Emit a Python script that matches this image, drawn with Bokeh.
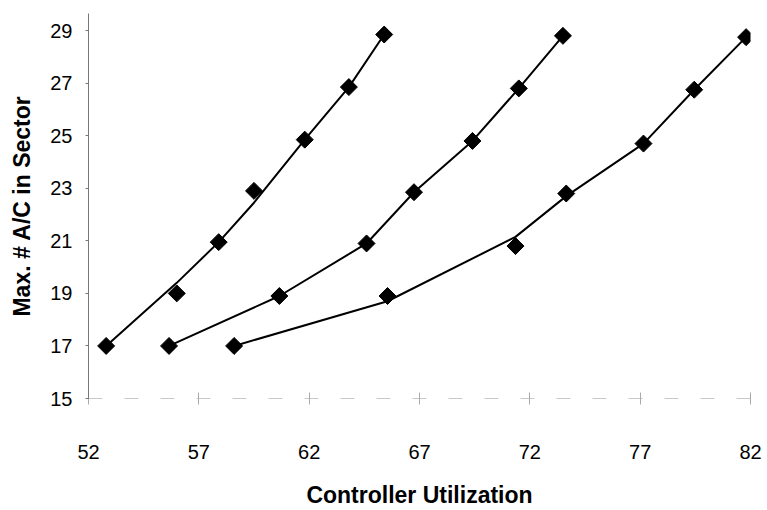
import numpy as np
from bokeh.plotting import figure
from bokeh.models import Range1d, FixedTicker
from bokeh.embed import file_html
from bokeh.resources import INLINE

# Data
x1 = [52.8, 56.0, 57.9, 59.5, 61.8, 63.8, 65.4]
y1 = [17.0, 19.0, 20.95, 22.9, 24.85, 26.85, 28.85]
line1 = [17.0, 19.4, 20.95, 22.45, 24.85, 26.85, 28.85]

x2 = [55.65, 60.65, 64.6, 66.75, 69.4, 71.5, 73.5]
y2 = [17.0, 18.9, 20.9, 22.85, 24.8, 26.8, 28.8]
line2 = [17.0, 18.9, 20.9, 22.85, 24.8, 26.8, 28.8]

x3 = [58.6, 65.55, 71.35, 73.65, 77.15, 79.45, 81.8]
y3 = [17.0, 18.9, 20.8, 22.8, 24.7, 26.75, 28.75]
line3 = [17.0, 18.7, 21.15, 22.7, 24.7, 26.75, 28.75]

x_ticks = [52, 57, 62, 67, 72, 77, 82]
y_ticks = [15, 17, 19, 21, 23, 25, 27, 29]

FONT = "Liberation Sans"

p = figure(width=767, height=510, output_backend="svg", toolbar_location=None,
           x_range=Range1d(52, 82), y_range=Range1d(15, 29.65),
           min_border_left=88, min_border_right=17, min_border_top=13, min_border_bottom=111)

p.grid.visible = False
p.outline_line_color = None
p.background_fill_color = "white"
p.border_fill_color = "white"

for xs, ls in [(x1, line1), (x2, line2), (x3, line3)]:
    p.line(xs, ls, line_color="black", line_width=2)
for xs, ys in [(x1, y1), (x2, y2), (x3, y3)]:
    p.scatter(xs, ys, marker="square", size=12, angle=np.pi / 4,
              fill_color="black", line_color="black")

p.xaxis.ticker = FixedTicker(ticks=x_ticks)
p.yaxis.ticker = FixedTicker(ticks=y_ticks)
p.xaxis.minor_tick_line_color = None
p.yaxis.minor_tick_line_color = None

p.yaxis.axis_line_color = "#777777"
p.yaxis.major_tick_line_color = "#777777"
p.yaxis.major_tick_in = 0
p.yaxis.major_tick_out = 3
p.yaxis.major_label_standoff = 13
p.yaxis.axis_label = "Max. # A/C in Sector"
p.yaxis.axis_label_standoff = 12

p.xaxis.axis_line_color = "#c8c8c8"
p.xaxis.axis_line_dash = "14 22"
p.xaxis.major_tick_line_color = "#aaaaaa"
p.xaxis.major_tick_in = 6
p.xaxis.major_tick_out = 6
p.xaxis.major_label_standoff = 40
p.xaxis.axis_label = "Controller Utilization"
p.xaxis.axis_label_standoff = 20

for ax in (p.xaxis, p.yaxis):
    ax.major_label_text_font = FONT
    ax.major_label_text_font_size = "20px"
    ax.major_label_text_color = "black"
    ax.axis_label_text_font = FONT
    ax.axis_label_text_font_size = "23px"
    ax.axis_label_text_font_style = "bold"
    ax.axis_label_text_color = "black"

open("out.html", "w").write(file_html(p, INLINE))
